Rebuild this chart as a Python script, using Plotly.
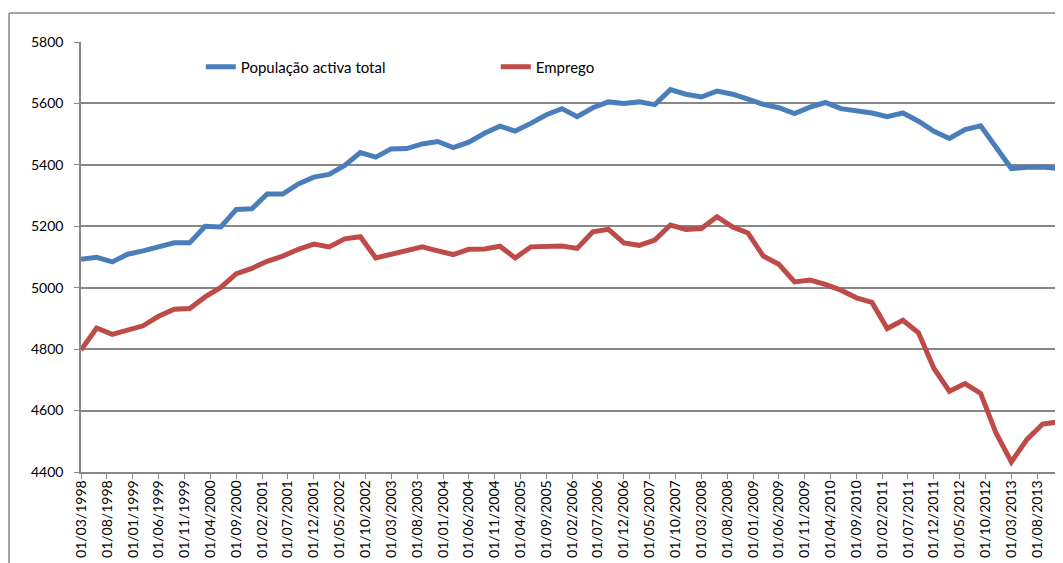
import pandas as pd
import plotly.graph_objects as go

# quarterly observations, Mar 1998 .. Dec 2013 (thousands)
dates = pd.date_range("1998-03-01", periods=64, freq="3MS")

populacao_activa = [
    5093, 5099, 5084, 5109, 5120, 5135, 5146, 5146, 5200, 5198,
    5255, 5257, 5305, 5305, 5338, 5360, 5369, 5398, 5440, 5425,
    5452, 5453, 5468, 5476, 5456, 5474, 5503, 5526, 5510, 5535,
    5563, 5583, 5557, 5586, 5605, 5600, 5605, 5596, 5645, 5630,
    5621, 5640, 5630, 5614, 5597, 5586, 5567, 5588, 5603, 5583,
    5575, 5569, 5557, 5569, 5542, 5509, 5486, 5515, 5527, 5456,
    5388, 5392, 5393, 5388,
]

emprego = [
    4797, 4869, 4848, 4862, 4876, 4907, 4930, 4932, 4970, 5001,
    5046, 5063, 5086, 5103, 5125, 5142, 5133, 5159, 5166, 5097,
    5109, 5122, 5133, 5120, 5108, 5125, 5126, 5135, 5097, 5133,
    5133, 5136, 5128, 5182, 5190, 5146, 5138, 5155, 5204, 5190,
    5193, 5231, 5198, 5178, 5103, 5076, 5019, 5025, 5011, 4992,
    4967, 4952, 4867, 4894, 4853, 4737, 4663, 4688, 4656, 4526,
    4433, 4506, 4556, 4563,
]

GRID = "#878787"
FONT = "Lato"

fig = go.Figure()
fig.add_trace(go.Scatter(
    x=dates, y=populacao_activa, mode="lines",
    name="População activa total",
    line=dict(color="#4A7EBB", width=5),
))
fig.add_trace(go.Scatter(
    x=dates, y=emprego, mode="lines",
    name="Emprego",
    line=dict(color="#BE4B48", width=5),
))

# page body has an 8px margin, so the figure is sized to fit the window
fig.update_layout(
    width=1055,
    height=555,
    margin=dict(l=73, r=0, t=34, b=91, autoexpand=False),
    paper_bgcolor="white",
    plot_bgcolor="white",
    font=dict(family=FONT, size=14, color="black"),
    legend=dict(
        orientation="h",
        x=0.122, xanchor="left",
        y=0.942, yanchor="middle",
        entrywidth=250,
        font=dict(size=15),
        bgcolor="rgba(0,0,0,0)",
    ),
    shapes=[
        # outer chart border (left and top edges visible in the crop)
        dict(type="line", xref="paper", yref="paper",
             x0=-0.0733, x1=-0.0733, y0=-0.3, y1=1.0674,
             line=dict(color=GRID, width=1.5)),
        dict(type="line", xref="paper", yref="paper",
             x0=-0.0733, x1=1.05, y0=1.0674, y1=1.0674,
             line=dict(color=GRID, width=1.5)),
    ],
)

fig.update_xaxes(
    type="date",
    automargin=False,
    range=["1998-03-01", "2013-12-30"],
    tick0="1998-03-01",
    dtick="M5",
    tickformat="%d/%m/%Y",
    tickangle=-90,
    ticks="outside",
    ticklen=5,
    tickcolor=GRID,
    ticklabelstandoff=-4,
    tickfont=dict(size=14),
    showgrid=False,
    showline=True,
    linecolor=GRID,
    linewidth=1.5,
    zeroline=False,
)
fig.update_yaxes(
    automargin=False,
    range=[4400, 5800],
    dtick=200,
    ticks="outside",
    ticklen=5,
    tickcolor=GRID,
    ticklabelstandoff=8,
    showgrid=True,
    gridcolor=GRID,
    gridwidth=1.5,
    showline=True,
    linecolor=GRID,
    linewidth=1.5,
    zeroline=False,
)

fig.write_html("out.html")
